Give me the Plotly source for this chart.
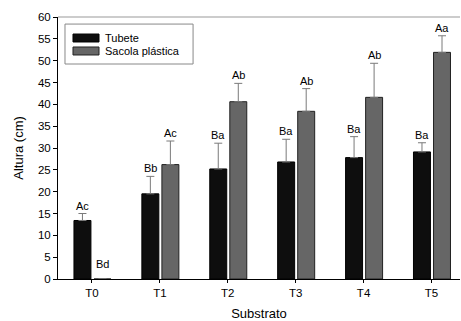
import plotly.graph_objects as go

categories = ["T0", "T1", "T2", "T3", "T4", "T5"]
tubete = [13.4, 19.5, 25.2, 26.8, 27.8, 29.1]
tubete_err = [1.6, 4.0, 5.9, 5.2, 4.8, 2.1]
sacola = [0.0, 26.2, 40.6, 38.4, 41.6, 51.9]
sacola_err = [0.0, 5.4, 4.2, 5.2, 7.8, 3.8]
tubete_labels = ["Ac", "Bb", "Ba", "Ba", "Ba", "Ba"]
sacola_labels = ["Bd", "Ac", "Ab", "Ab", "Ab", "Aa"]
y_ticks = list(range(0, 61, 5))

FONT = "Liberation Sans, Arial, sans-serif"
BAR_W = 0.25
OFF_T = -0.265
OFF_S = 0.03

fig = go.Figure()
fig.add_trace(go.Bar(
    x=categories, y=tubete, name="Tubete", width=BAR_W, offset=OFF_T,
    marker=dict(color="#0e0e0e", line=dict(color="#000000", width=1)),
    error_y=dict(type="data", symmetric=False, array=tubete_err,
                 arrayminus=[0] * len(tubete), color="#7a7a7a", thickness=1, width=4),
    showlegend=False,
))
fig.add_trace(go.Bar(
    x=categories, y=sacola, name="Sacola plástica", width=BAR_W, offset=OFF_S,
    marker=dict(color="#666666", line=dict(color="#222222", width=1)),
    error_y=dict(type="data", symmetric=False,
                 array=[e if e > 0 else None for e in sacola_err],
                 arrayminus=[0 if e > 0 else None for e in sacola_err],
                 color="#7a7a7a", thickness=1, width=4),
    showlegend=False,
))

annotations = []
for i, c in enumerate(categories):
    for vals, errs, labs, off in ((tubete, tubete_err, tubete_labels, OFF_T),
                                  (sacola, sacola_err, sacola_labels, OFF_S)):
        top = vals[i] + errs[i]
        annotations.append(dict(
            x=i + off + BAR_W / 2, y=top, xref="x", yref="y", text=labs[i],
            showarrow=False, yanchor="bottom", xanchor="center",
            yshift=7 if top == 0 else 0,
            font=dict(family=FONT, size=11, color="#000000"),
        ))

# legend box
annotations.append(dict(x=0.112, y=0.920, xref="paper", yref="paper", text="Tubete",
                        showarrow=False, xanchor="left", yanchor="middle",
                        font=dict(family=FONT, size=11, color="#000000")))
annotations.append(dict(x=0.112, y=0.870, xref="paper", yref="paper", text="Sacola plástica",
                        showarrow=False, xanchor="left", yanchor="middle",
                        font=dict(family=FONT, size=11, color="#000000")))
shapes = [
    dict(type="rect", xref="paper", yref="paper", x0=0.0174, x1=0.336, y0=0.8206, y1=0.973,
         line=dict(color="#888888", width=1), fillcolor="rgba(0,0,0,0)"),
    dict(type="rect", xref="paper", yref="paper", x0=0.0373, x1=0.102, y0=0.9046, y1=0.935,
         line=dict(color="#000000", width=1), fillcolor="#0e0e0e"),
    dict(type="rect", xref="paper", yref="paper", x0=0.0373, x1=0.102, y0=0.855, y1=0.8855,
         line=dict(color="#222222", width=1), fillcolor="#666666"),
    dict(type="line", xref="paper", yref="paper", x0=0, x1=1, y0=1, y1=1,
         line=dict(color="#999999", width=1)),
]

fig.update_layout(
    width=461, height=321,
    margin=dict(l=58, r=1, t=17, b=42),
    paper_bgcolor="white", plot_bgcolor="white",
    barmode="overlay",
    font=dict(family=FONT, size=11, color="#000000"),
    annotations=annotations, shapes=shapes,
    xaxis=dict(
        type="category", range=[-0.5, 5.42], showgrid=False, zeroline=False,
        showline=True, linecolor="#000000", linewidth=1,
        ticks="outside", ticklen=3, tickcolor="#000000",
        tickfont=dict(family=FONT, size=11.5),
        title=dict(text="Substrato", font=dict(family=FONT, size=13), standoff=12),
    ),
    yaxis=dict(
        range=[0, 60], tickvals=y_ticks, showgrid=False, zeroline=False,
        showline=True, linecolor="#000000", linewidth=1,
        ticks="outside", ticklen=4, tickcolor="#000000",
        tickfont=dict(family=FONT, size=11.5),
        title=dict(text="Altura (cm)", font=dict(family=FONT, size=13), standoff=11),
    ),
)

fig.write_html("out.html")
